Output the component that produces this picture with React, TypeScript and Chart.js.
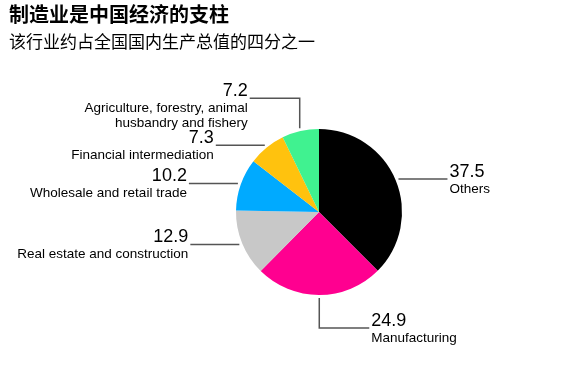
import React, { useEffect, useRef } from "react";
import { Chart, registerables } from "chart.js";

Chart.register(...registerables);

const title = "制造业是中国经济的支柱";
const subtitle = "该行业约占全国国内生产总值的四分之一";
const categories = [
  ["Others"],
  ["Manufacturing"],
  ["Real estate and construction"],
  ["Wholesale and retail trade"],
  ["Financial intermediation"],
  ["Agriculture, forestry, animal", "husbandry and fishery"],
];
const values = [37.5, 24.9, 12.9, 10.2, 7.3, 7.2];
const colors = ["#000000", "#FF0090", "#C8C8C8", "#00AAFF", "#FFC20E", "#40F290"];

const LABEL_FONT = '"Liberation Sans", Arial, sans-serif';

const calloutPlugin = {
  id: "callouts",
  afterDraw(chart: any) {
    const ctx = chart.ctx;
    const meta = chart.getDatasetMeta(0);
    ctx.save();
    // titles
    ctx.fillStyle = "#000";
    ctx.textBaseline = "alphabetic";
    ctx.textAlign = "left";
    ctx.font = 'bold 20px "Noto Sans CJK SC", sans-serif';
    ctx.fillText(title, 9, 22);
    ctx.font = '17px "Noto Sans CJK SC", sans-serif';
    ctx.fillText(subtitle, 9, 48);

    meta.data.forEach((arc: any, i: number) => {
      const { x, y, startAngle, endAngle, outerRadius } = arc.getProps(
        ["x", "y", "startAngle", "endAngle", "outerRadius"],
        true
      );
      const mid = (startAngle + endAngle) / 2;
      const c = Math.cos(mid);
      const s = Math.sin(mid);
      const r = outerRadius + 3;
      const px = x + r * c;
      const py = y + r * s;
      const dir = c >= 0 ? 1 : -1;
      ctx.strokeStyle = "#555555";
      ctx.lineWidth = 1.5;
      ctx.beginPath();
      let ex: number, ey: number;
      if (Math.abs(c) < 0.3) {
        const vy = py + (s > 0 ? 30 : -30);
        ex = px + dir * 50;
        ey = vy;
        ctx.moveTo(px, py);
        ctx.lineTo(px, vy);
        ctx.lineTo(ex, ey);
      } else {
        ex = px + dir * 49;
        ey = py;
        ctx.moveTo(px, py);
        ctx.lineTo(ex, ey);
      }
      ctx.stroke();
      const tx = ex + dir * 2;
      ctx.textAlign = dir > 0 ? "left" : "right";
      ctx.fillStyle = "#000";
      ctx.font = `18px ${LABEL_FONT}`;
      ctx.fillText(values[i].toFixed(1), tx, ey - 2);
      ctx.font = `13.5px ${LABEL_FONT}`;
      categories[i].forEach((line, j) => {
        ctx.fillText(line, tx, ey + 14 + j * 15);
      });
    });
    ctx.restore();
  },
};

export default function App() {
  const ref = useRef<HTMLCanvasElement | null>(null);
  useEffect(() => {
    if (!ref.current) return;
    const chart = new Chart(ref.current, {
      type: "pie",
      data: {
        labels: categories.map((c) => c.join(" ")),
        datasets: [
          {
            data: values,
            backgroundColor: colors,
            borderWidth: 0,
          },
        ],
      },
      options: {
        responsive: false,
        animation: false,
        events: [],
        layout: { padding: { left: 236, right: 181, top: 129, bottom: 71 } },
        plugins: {
          legend: { display: false },
          tooltip: { enabled: false },
          title: { display: false },
        },
      },
      plugins: [calloutPlugin],
    });
    return () => chart.destroy();
  }, []);
  return (
    <div style={{ position: "absolute", left: 0, top: 0, width: 583, height: 366, background: "#fff" }}>
      <canvas ref={ref} width={583} height={366} />
    </div>
  );
}
